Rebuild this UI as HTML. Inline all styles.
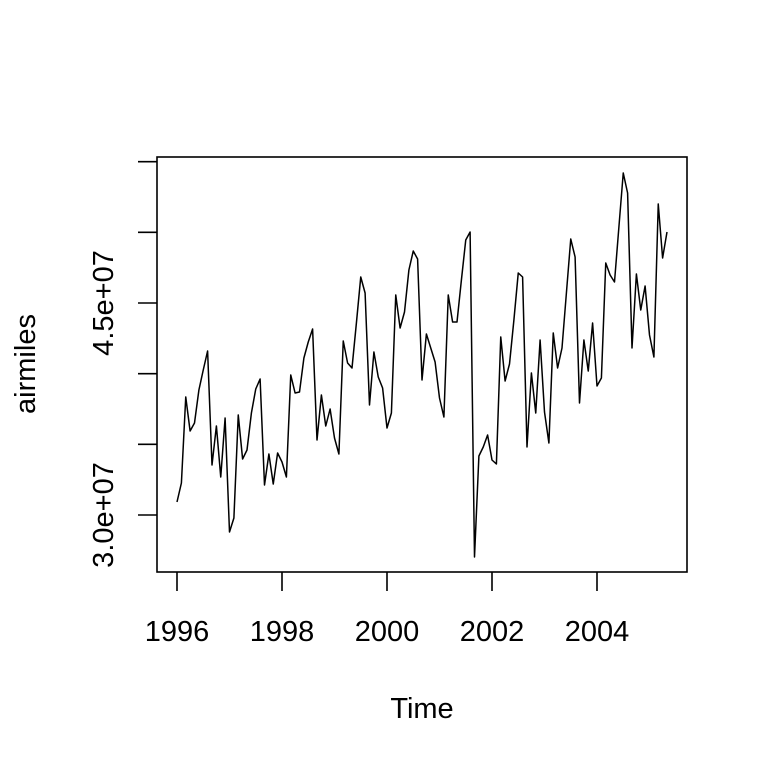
<!DOCTYPE html>
<html><head><meta charset="utf-8"><style>body{margin:0;background:#fff}</style></head><body>
<svg width="768" height="768" xmlns="http://www.w3.org/2000/svg" font-family="Liberation Sans, sans-serif" font-size="29">
<rect width="768" height="768" fill="#fff"/>
<rect x="157" y="157" width="530" height="415" fill="none" stroke="#000" stroke-width="1.6"/>
<g stroke="#000" stroke-width="1.6" fill="none">
<path d="M138 161.7H157M138 232.3H157M138 303H157M138 373.7H157M138 444.3H157M138 515H157"/>
<path d="M177 572V591M282 572V591M387 572V591M492 572V591M597 572V591"/>
</g>
<g text-anchor="middle">
<text x="177" y="641">1996</text><text x="282" y="641">1998</text><text x="387" y="641">2000</text><text x="492" y="641">2002</text><text x="597" y="641">2004</text>
<text x="422" y="718">Time</text>
<text transform="translate(113,515) rotate(-90)">3.0e+07</text>
<text transform="translate(113,303) rotate(-90)">4.5e+07</text>
<text transform="translate(35,364) rotate(-90)">airmiles</text>
</g>
<polyline fill="none" stroke="#000" stroke-width="1.5" stroke-linejoin="round" points="
177,502 181.4,483 185.75,397 190.1,431 194.5,423 198.9,390 203.25,370 207.6,351 212,465 216.4,426 220.75,477 225.1,418
229.5,532 233.9,518 238.25,415 242.6,459 247,450 251.4,413 255.75,389 260.1,379 264.5,485 268.9,454 273.25,484 277.6,453
282,462 286.4,477 290.75,375 295.1,393 299.5,392 303.9,358 308.25,342 312.6,329 317,440 321.4,395 325.75,426 330.1,409
334.5,438 338.9,454 343.25,341 347.6,363 352,368 356.4,323 360.75,277 365.1,293 369.5,405 373.9,352 378.25,377 382.6,388
387,428 391.4,413 395.75,295 400.1,328 404.5,312 408.9,270 413.25,251 417.6,259 422,380 426.4,334 430.75,348 435.1,362
439.5,398 443.9,417 448.25,295 452.6,322 457,322 461.4,280 465.75,240 470.1,232 474.5,557 478.9,456 483.25,447 487.6,435
492,460 496.4,464 500.75,337 505.1,381 509.5,364 513.9,320 518.25,273 522.6,277 527,447 531.4,373 535.75,413 540.1,340
544.5,412 548.9,443 553.25,333 557.6,368 562,348 566.4,293 570.75,239 575.1,257 579.5,403 583.9,340 588.25,371 592.6,323
597,386 601.4,378 605.75,263 610.1,275 614.5,282 618.9,227 623.25,173 627.6,193 632,348 636.4,274 640.75,310 645.1,286
649.5,335 653.9,357 658.25,204 662.6,258 667,232"/>
</svg>
</body></html>
